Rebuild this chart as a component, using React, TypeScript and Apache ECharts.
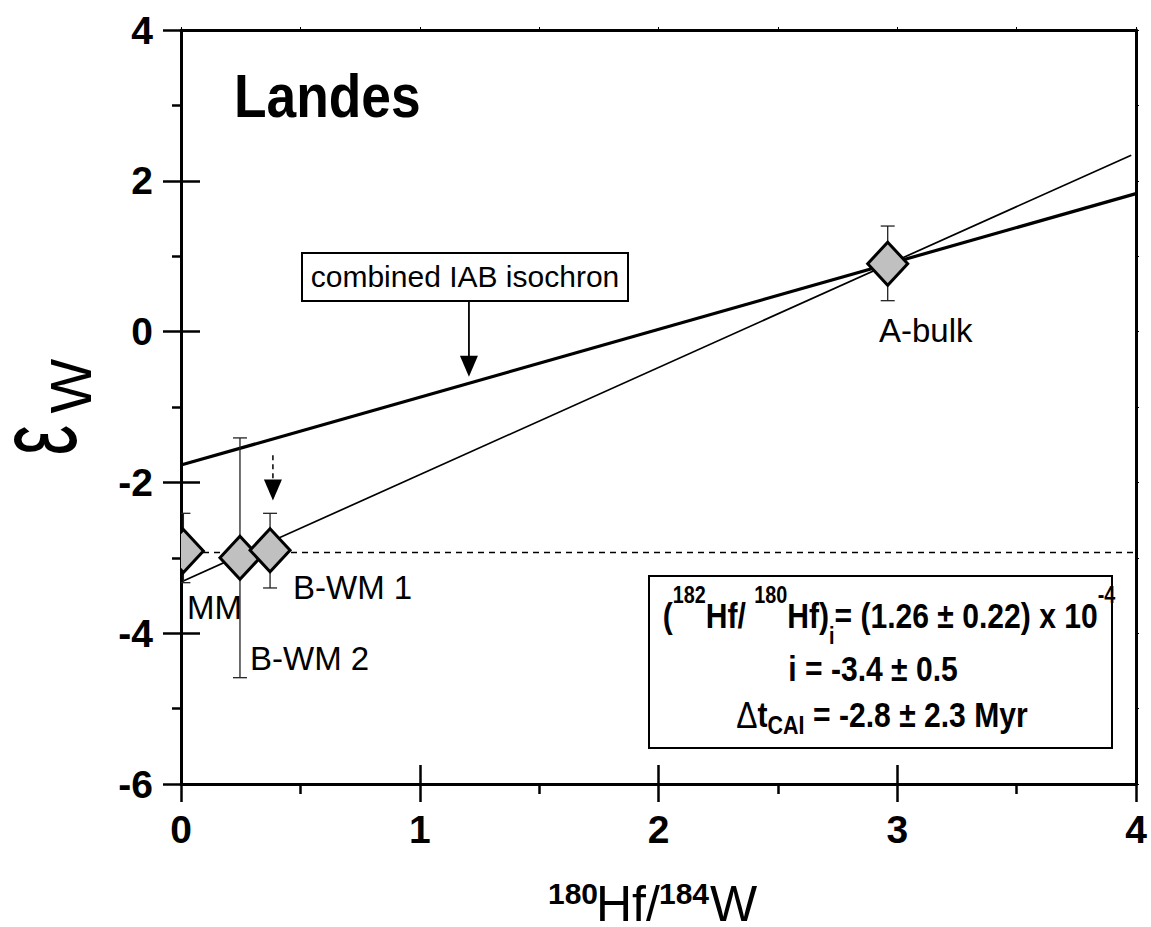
import React, { useEffect, useRef } from "react";
import * as echarts from "echarts";

const FONT = "'Liberation Sans', Arial, Helvetica, sans-serif";

// ---- data ----
const sampleNames = ["MM", "B-WM 2", "B-WM 1", "A-bulk"];
const hfW = [0.01, 0.247, 0.373, 2.96];
const epsW = [-2.91, -3.0, -2.9, 0.9];
const epsLow = [-3.33, -4.59, -3.4, 0.41];
const epsHigh = [-2.41, -1.41, -2.41, 1.4];

const combinedIsochronX = [0, 4];
const combinedIsochronY = [-1.77, 1.83];
const landesIsochronX = [0, 3.98];
const landesIsochronY = [-3.32, 2.34];
const referenceX = [0, 4];
const referenceY = [-2.93, -2.93];

const xTicks = [0, 1, 2, 3, 4];
const yTicks = [-6, -4, -2, 0, 2, 4];

// annotation arrows, data coordinates [start, tip]
const combinedArrow = [
  [1.206, 0.406],
  [1.206, -0.6],
];
const dashedArrow = [
  [0.385, -1.64],
  [0.385, -2.24],
];

const pair = (xs: number[], ys: number[]) => xs.map((x, i) => [x, ys[i]]);

const BLACK = "#000";

export default function App() {
  const ref = useRef<HTMLDivElement>(null);

  useEffect(() => {
    if (!ref.current) return;
    const chart = echarts.init(ref.current, undefined, { renderer: "svg" });

    const xMin = xTicks[0];
    const xMax = xTicks[xTicks.length - 1];
    const xInt = xTicks[1] - xTicks[0];
    const yMin = yTicks[0];
    const yMax = yTicks[yTicks.length - 1];
    const yInt = yTicks[1] - yTicks[0];

    const tickLabel = {
      fontSize: 39,
      fontWeight: "bold" as const,
      color: BLACK,
      fontFamily: FONT,
    };

    chart.setOption({
      animation: false,
      backgroundColor: "#fff",
      grid: {
        left: 181,
        right: 15,
        top: 30,
        bottom: 143,
        containLabel: false,
        outerBoundsMode: "none",
      },
      xAxis: [
        {
          type: "value",
          min: xMin,
          max: xMax,
          interval: xInt,
          position: "bottom",
          axisLine: { show: true, onZero: false, lineStyle: { color: BLACK, width: 3 } },
          axisTick: { show: true, length: 18, lineStyle: { color: BLACK, width: 2.5 } },
          minorTick: { show: true, splitNumber: 2, length: 10, lineStyle: { color: BLACK, width: 2.5 } },
          splitLine: { show: false },
          axisLabel: { ...tickLabel, margin: 26 },
        },
        {
          type: "value",
          min: xMin,
          max: xMax,
          interval: xInt,
          position: "bottom",
          axisLine: { show: false, onZero: false },
          axisTick: { show: true, inside: true, length: 19, lineStyle: { color: BLACK, width: 2.5 } },
          splitLine: { show: false },
          axisLabel: { show: false },
        },
        {
          type: "value",
          min: xMin,
          max: xMax,
          interval: xInt / 2,
          position: "top",
          axisLine: { show: true, onZero: false, lineStyle: { color: BLACK, width: 3 } },
          axisTick: { show: true, length: 3, lineStyle: { color: BLACK, width: 1 } },
          splitLine: { show: false },
          axisLabel: { show: false },
        },
      ],
      yAxis: [
        {
          type: "value",
          min: yMin,
          max: yMax,
          interval: yInt,
          position: "left",
          axisLine: { show: true, onZero: false, lineStyle: { color: BLACK, width: 3 } },
          axisTick: { show: true, length: 18, lineStyle: { color: BLACK, width: 2.5 } },
          minorTick: { show: true, splitNumber: 2, length: 9, lineStyle: { color: BLACK, width: 2.5 } },
          splitLine: { show: false },
          axisLabel: { ...tickLabel, margin: 28 },
        },
        {
          type: "value",
          min: yMin,
          max: yMax,
          interval: yInt,
          position: "left",
          axisLine: { show: false, onZero: false },
          axisTick: { show: true, inside: true, length: 19, lineStyle: { color: BLACK, width: 2.5 } },
          splitLine: { show: false },
          axisLabel: { show: false },
        },
        {
          type: "value",
          min: yMin,
          max: yMax,
          interval: yInt / 2,
          position: "right",
          axisLine: { show: true, onZero: false, lineStyle: { color: BLACK, width: 3 } },
          axisTick: { show: true, length: 3, lineStyle: { color: BLACK, width: 1 } },
          splitLine: { show: false },
          axisLabel: { show: false },
        },
      ],
      series: [
        {
          type: "line",
          xAxisIndex: 0,
          yAxisIndex: 0,
          data: pair(combinedIsochronX, combinedIsochronY),
          symbol: "none",
          lineStyle: { color: BLACK, width: 3.2 },
          z: 2,
        },
        {
          type: "line",
          xAxisIndex: 0,
          yAxisIndex: 0,
          data: pair(landesIsochronX, landesIsochronY),
          symbol: "none",
          lineStyle: { color: BLACK, width: 1.7 },
          z: 2,
        },
        {
          type: "line",
          xAxisIndex: 0,
          yAxisIndex: 0,
          data: pair(referenceX, referenceY),
          symbol: "none",
          lineStyle: { color: BLACK, width: 1.6, type: [6, 5] },
          z: 2,
        },
        {
          type: "custom",
          xAxisIndex: 0,
          yAxisIndex: 0,
          clip: true,
          z: 3,
          encode: { x: 0, y: [1, 2] },
          data: hfW.map((x, i) => [x, epsLow[i], epsHigh[i]]),
          renderItem: (_p: any, api: any) => {
            const x = api.value(0);
            const lo = api.coord([x, api.value(1)]);
            const hi = api.coord([x, api.value(2)]);
            const hw = 7;
            const st = { stroke: "#222", lineWidth: 1.3 };
            return {
              type: "group",
              children: [
                { type: "line", shape: { x1: lo[0], y1: lo[1], x2: hi[0], y2: hi[1] }, style: st },
                { type: "line", shape: { x1: lo[0] - hw, y1: lo[1], x2: lo[0] + hw, y2: lo[1] }, style: st },
                { type: "line", shape: { x1: hi[0] - hw, y1: hi[1], x2: hi[0] + hw, y2: hi[1] }, style: st },
              ],
            };
          },
        },
        {
          type: "custom",
          name: "samples",
          xAxisIndex: 0,
          yAxisIndex: 0,
          clip: true,
          z: 4,
          encode: { x: 0, y: 1 },
          data: hfW.map((x, i) => [x, epsW[i]]),
          renderItem: (_p: any, api: any) => {
            const c = api.coord([api.value(0), api.value(1)]);
            const w = 20;
            const h = 21.5;
            return {
              type: "polygon",
              shape: {
                points: [
                  [c[0], c[1] - h],
                  [c[0] + w, c[1]],
                  [c[0], c[1] + h],
                  [c[0] - w, c[1]],
                ],
              },
              style: { fill: "#c0c0c0", stroke: BLACK, lineWidth: 3 },
            };
          },
        },
      ],
    });

    const px = (d: number[]) => chart.convertToPixel({ seriesIndex: 0 }, d) as number[];

    const arrow = (d: number[][], dashed: boolean) => {
      const s = px(d[0]);
      const t = px(d[1]);
      const headL = 21;
      const headW = 9;
      return [
        {
          type: "line",
          z: 20,
          shape: { x1: s[0], y1: s[1], x2: t[0], y2: t[1] - headL + 1 },
          style: { stroke: BLACK, lineWidth: dashed ? 1.5 : 1.8, lineDash: dashed ? [5, 4] : null },
        },
        {
          type: "polygon",
          z: 20,
          shape: {
            points: [
              [t[0], t[1]],
              [t[0] - headW, t[1] - headL],
              [t[0] + headW, t[1] - headL],
            ],
          },
          style: { fill: BLACK },
        },
      ];
    };

    const labelStyle = (text: string, size = 33) => ({
      text,
      fontSize: size,
      fontFamily: FONT,
      fill: BLACK,
      align: "left",
      verticalAlign: "middle",
    });

    chart.setOption({
      graphic: [
        // title
        {
          type: "text",
          x: 234,
          y: 96,
          scaleX: 0.86,
          z: 20,
          style: { ...labelStyle("Landes", 62), fontWeight: "bold" },
        },
        // combined isochron label
        {
          type: "rect",
          z: 15,
          shape: { x: 302, y: 253, width: 326, height: 48 },
          style: { fill: "#fff", stroke: BLACK, lineWidth: 2 },
        },
        {
          type: "text",
          x: 465,
          y: 276,
          z: 20,
          style: { ...labelStyle("combined IAB isochron", 30), align: "center" },
        },
        ...arrow(combinedArrow, false),
        ...arrow(dashedArrow, true),
        // sample labels
        { type: "text", x: 187, y: 607, z: 20, style: labelStyle(sampleNames[0]) },
        { type: "text", x: 250, y: 658, z: 20, style: labelStyle(sampleNames[1]) },
        { type: "text", x: 293, y: 587, z: 20, style: labelStyle(sampleNames[2]) },
        { type: "text", x: 879, y: 330, z: 20, style: labelStyle(sampleNames[3]) },
        // result box
        {
          type: "rect",
          z: 15,
          shape: { x: 649, y: 576, width: 463, height: 172 },
          style: { fill: "#fff", stroke: BLACK, lineWidth: 2 },
        },
        {
          type: "text",
          x: 889,
          y: 616,
          scaleX: 0.86,
          z: 20,
          style: {
            text: "{m|(}{sup|182}{m|Hf/ }{sup|180}{m|Hf)}{sub|i}{m|= (1.26 ± 0.22) x 10}{sup|-4}",
            align: "center",
            verticalAlign: "middle",
            fill: BLACK,
            rich: {
              m: { fontSize: 35, fontWeight: "bold", fontFamily: FONT, lineHeight: 64, fill: BLACK },
              sup: { fontSize: 23, fontWeight: "bold", fontFamily: FONT, lineHeight: 23, verticalAlign: "top", fill: BLACK },
              sub: { fontSize: 23, fontWeight: "bold", fontFamily: FONT, lineHeight: 23, verticalAlign: "bottom", fill: BLACK },
            },
          },
        },
        {
          type: "text",
          x: 873,
          y: 669,
          scaleX: 0.86,
          z: 20,
          style: { ...labelStyle("i = -3.4 ± 0.5", 35), fontWeight: "bold", align: "center" },
        },
        {
          type: "text",
          x: 882,
          y: 715,
          scaleX: 0.86,
          z: 20,
          style: {
            text: "{d|Δ}{m|t}{sub|CAI}{m| = -2.8 ± 2.3 Myr}",
            align: "center",
            verticalAlign: "middle",
            fill: BLACK,
            rich: {
              d: { fontSize: 37, fontWeight: "normal", fontFamily: FONT, lineHeight: 46, fill: BLACK },
              m: { fontSize: 35, fontWeight: "bold", fontFamily: FONT, lineHeight: 46, fill: BLACK },
              sub: { fontSize: 25, fontWeight: "bold", fontFamily: FONT, lineHeight: 24, verticalAlign: "bottom", fill: BLACK },
            },
          },
        },
        // x axis title
        { type: "text", x: 548, y: 893, z: 20, style: { ...labelStyle("180", 30), fontWeight: "bold", lineHeight: 30 } },
        { type: "text", x: 596, y: 904, z: 20, style: { ...labelStyle("Hf/", 50), lineHeight: 38 } },
        { type: "text", x: 659, y: 893, z: 20, style: { ...labelStyle("184", 30), fontWeight: "bold", lineHeight: 30 } },
        { type: "text", x: 710, y: 904, z: 20, style: { ...labelStyle("W", 50), lineHeight: 38 } },
        // y axis title (rotated)
        {
          type: "text",
          x: 36,
          y: 440,
          rotation: Math.PI / 2,
          scaleY: 1.7,
          z: 20,
          style: { ...labelStyle("ε", 68), lineHeight: 38, align: "center" },
        },
        {
          type: "text",
          x: 70,
          y: 386,
          rotation: Math.PI / 2,
          z: 20,
          style: { ...labelStyle("W", 58), align: "center" },
        },
      ],
    });

    return () => {
      chart.dispose();
    };
  }, []);

  return (
    <div
      ref={ref}
      style={{ position: "fixed", left: 0, top: 0, width: 1151, height: 927, background: "#fff" }}
    />
  );
}
